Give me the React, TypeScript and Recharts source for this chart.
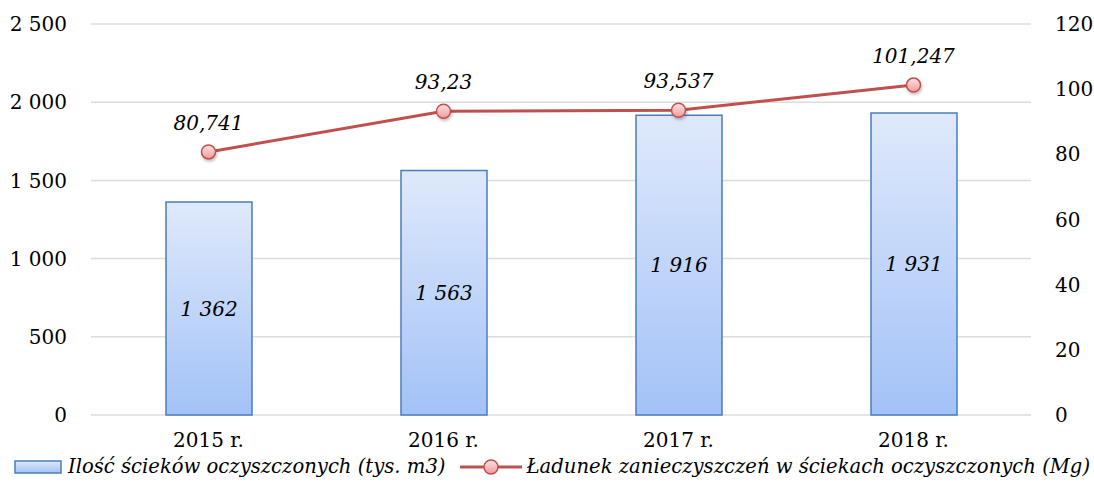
import React from "react";
import {
  ComposedChart,
  Bar,
  Line,
  XAxis,
  YAxis,
  CartesianGrid,
  Legend,
  LabelList,
} from "recharts";

const categories = ["2015 r.", "2016 r.", "2017 r.", "2018 r."];
const sewageVolume = [1362, 1563, 1916, 1931];
const pollutantLoad = [80.741, 93.23, 93.537, 101.247];
const leftTicks = [0, 500, 1000, 1500, 2000, 2500];
const rightTicks = [0, 20, 40, 60, 80, 100, 120];
const seriesNames = [
  "Ilość ścieków oczyszczonych (tys. m3)",
  "Ładunek zanieczyszczeń w ściekach oczyszczonych (Mg)",
];

const data = categories.map((c, i) => ({
  name: c,
  volume: sewageVolume[i],
  load: pollutantLoad[i],
}));

const FONT = "'DejaVu Serif', serif";

const fmtThousands = (v: number) =>
  String(v).replace(/\B(?=(\d{3})+(?!\d))/g, " ");
const fmtDecimal = (v: number) => String(v).replace(".", ",");

const Dot = (props: any) => {
  const { cx, cy } = props;
  if (cx == null || cy == null) return null;
  return (
    <circle
      cx={cx}
      cy={cy}
      r={7}
      fill="url(#dotGrad)"
      stroke="#c0504d"
      strokeWidth={1.5}
      filter="url(#shadow)"
    />
  );
};

const LegendContent = () => (
  <div
    style={{
      display: "flex",
      justifyContent: "center",
      alignItems: "center",
      fontFamily: FONT,
      fontStyle: "italic",
      fontSize: 19.6,
      color: "#000",
      height: 31,
      whiteSpace: "nowrap",
      paddingLeft: 10,
    }}
  >
    <svg width={48} height={14} style={{ marginRight: 6 }}>
      <defs>
        <linearGradient id="legBar" x1="0" y1="0" x2="0" y2="1">
          <stop offset="0%" stopColor="#dfe9fb" />
          <stop offset="100%" stopColor="#a3c2f7" />
        </linearGradient>
      </defs>
      <rect x={1} y={1} width={46} height={12} fill="url(#legBar)" stroke="#4a7ebb" strokeWidth={1.5} />
    </svg>
    <span>{seriesNames[0]}</span>
    <svg width={62} height={18} style={{ marginLeft: 14, marginRight: 5 }}>
      <defs>
        <linearGradient id="legDot" x1="0" y1="0" x2="0" y2="1">
          <stop offset="0%" stopColor="#fde3e3" />
          <stop offset="100%" stopColor="#f09a9a" />
        </linearGradient>
      </defs>
      <line x1={0} y1={9} x2={62} y2={9} stroke="#c0504d" strokeWidth={3} />
      <circle cx={31} cy={9} r={7} fill="url(#legDot)" stroke="#c0504d" strokeWidth={1.5} />
    </svg>
    <span>{seriesNames[1]}</span>
  </div>
);

export default function App() {
  return (
    <div style={{ position: "fixed", left: 0, top: 0, background: "#fff" }}>
      <ComposedChart
        width={1094}
        height={486}
        data={data}
        margin={{ top: 24, right: 0, bottom: 4, left: 0 }}
      >
        <defs>
          <linearGradient id="barGrad" x1="0" y1="0" x2="0" y2="1">
            <stop offset="0%" stopColor="#dfe9fb" />
            <stop offset="100%" stopColor="#a3c2f7" />
          </linearGradient>
          <linearGradient id="dotGrad" x1="0" y1="0" x2="0" y2="1">
            <stop offset="0%" stopColor="#fde3e3" />
            <stop offset="100%" stopColor="#f09a9a" />
          </linearGradient>
          <filter id="shadow" x="-50%" y="-50%" width="200%" height="200%">
            <feDropShadow dx="1" dy="2" stdDeviation="1.5" floodColor="#000" floodOpacity="0.25" />
          </filter>
        </defs>
        <CartesianGrid yAxisId="left" vertical={false} stroke="#dcdcdc" strokeWidth={1.5} />
        <XAxis
          dataKey="name"
          axisLine={false}
          tickLine={false}
          height={36}
          tickMargin={12}
          tick={{ fontFamily: FONT, fontSize: 20, fill: "#000" }}
        />
        <YAxis
          yAxisId="left"
          orientation="left"
          domain={[0, 2500]}
          ticks={leftTicks}
          width={91}
          axisLine={false}
          tickLine={false}
          tickMargin={18}
          tickFormatter={fmtThousands}
          tick={{ fontFamily: FONT, fontSize: 20, fill: "#000" }}
        />
        <YAxis
          yAxisId="right"
          orientation="right"
          domain={[0, 120]}
          ticks={rightTicks}
          width={63}
          axisLine={false}
          tickLine={false}
          tickMargin={18}
          tick={{ fontFamily: FONT, fontSize: 20, fill: "#000" }}
        />
        <Legend verticalAlign="bottom" height={31} content={LegendContent} />
        <Bar
          yAxisId="left"
          dataKey="volume"
          name={seriesNames[0]}
          barSize={86}
          fill="url(#barGrad)"
          stroke="#4a7ebb"
          strokeWidth={1.5}
          isAnimationActive={false}
        >
          <LabelList
            dataKey="volume"
            position="center"
            formatter={(v: any) => fmtThousands(Number(v))}
            style={{ fontFamily: FONT, fontStyle: "italic", fontSize: 20, fill: "#000" }}
          />
        </Bar>
        <Line
          yAxisId="right"
          dataKey="load"
          name={seriesNames[1]}
          stroke="#c0504d"
          strokeWidth={3}
          dot={<Dot />}
          activeDot={false}
          isAnimationActive={false}
        >
          <LabelList
            dataKey="load"
            position="top"
            offset={22}
            formatter={(v: any) => fmtDecimal(Number(v))}
            style={{ fontFamily: FONT, fontStyle: "italic", fontSize: 20, fill: "#000" }}
          />
        </Line>
      </ComposedChart>
    </div>
  );
}
